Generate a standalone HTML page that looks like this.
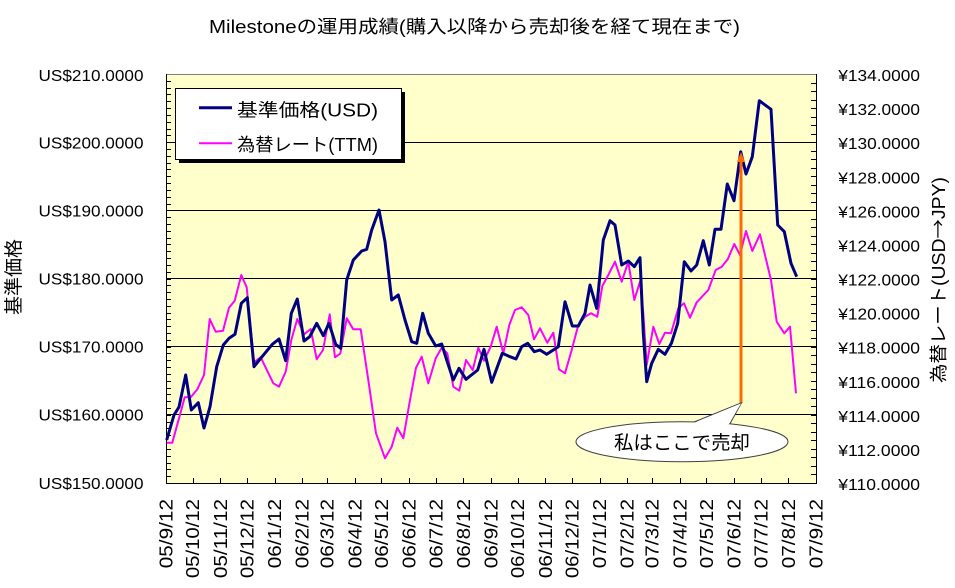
<!DOCTYPE html>
<html><head><meta charset="utf-8"><style>
html,body{margin:0;padding:0;background:#fff;}
svg{display:block;}
text{font-family:"Liberation Sans","Noto Sans CJK JP",sans-serif;fill:#000;}
</style></head><body>
<svg width="955" height="588" viewBox="0 0 955 588" xmlns="http://www.w3.org/2000/svg">
<rect x="0" y="0" width="955" height="588" fill="#fff"/>
<text x="209" y="33" font-size="18" textLength="531" lengthAdjust="spacingAndGlyphs">Milestoneの運用成績(購入以降から売却後を経て現在まで)</text>
<rect x="166" y="74" width="650" height="409" fill="#ffffcc"/>
<g shape-rendering="crispEdges" stroke="#000" stroke-width="1" fill="none">
<line x1="166" y1="142.5" x2="816" y2="142.5"/>
<line x1="166" y1="210.5" x2="816" y2="210.5"/>
<line x1="166" y1="278.5" x2="816" y2="278.5"/>
<line x1="166" y1="346.5" x2="816" y2="346.5"/>
<line x1="166" y1="414.5" x2="816" y2="414.5"/>
<line x1="166" y1="74.5" x2="816" y2="74.5" stroke="#808080"/>
<line x1="166.5" y1="74" x2="166.5" y2="484"/>
<line x1="816.5" y1="74" x2="816.5" y2="484"/>
<line x1="166" y1="483.5" x2="817" y2="483.5"/>
<path d="M166 476.5h5M166 469.5h5M166 463.5h5M166 456.5h5M166 449.5h5M166 442.5h5M166 435.5h5M166 428.5h5M166 422.5h5M166 415.5h5M166 408.5h5M166 401.5h5M166 394.5h5M166 388.5h5M166 381.5h5M166 374.5h5M166 367.5h5M166 360.5h5M166 353.5h5M166 347.5h5M166 340.5h5M166 333.5h5M166 326.5h5M166 319.5h5M166 313.5h5M166 306.5h5M166 299.5h5M166 292.5h5M166 285.5h5M166 279.5h5M166 272.5h5M166 265.5h5M166 258.5h5M166 251.5h5M166 244.5h5M166 238.5h5M166 231.5h5M166 224.5h5M166 217.5h5M166 210.5h5M166 204.5h5M166 197.5h5M166 190.5h5M166 183.5h5M166 176.5h5M166 169.5h5M166 163.5h5M166 156.5h5M166 149.5h5M166 142.5h5M166 135.5h5M166 129.5h5M166 122.5h5M166 115.5h5M166 108.5h5M166 101.5h5M166 94.5h5M166 88.5h5M166 81.5h5"/>
<path d="M811 474.5h5M811 466.5h5M811 457.5h5M811 449.5h5M811 440.5h5M811 432.5h5M811 423.5h5M811 415.5h5M811 406.5h5M811 398.5h5M811 389.5h5M811 381.5h5M811 372.5h5M811 364.5h5M811 355.5h5M811 347.5h5M811 338.5h5M811 330.5h5M811 321.5h5M811 313.5h5M811 304.5h5M811 296.5h5M811 287.5h5M811 279.5h5M811 270.5h5M811 261.5h5M811 253.5h5M811 244.5h5M811 236.5h5M811 227.5h5M811 219.5h5M811 210.5h5M811 202.5h5M811 193.5h5M811 185.5h5M811 176.5h5M811 168.5h5M811 159.5h5M811 151.5h5M811 142.5h5M811 134.5h5M811 125.5h5M811 117.5h5M811 108.5h5M811 100.5h5M811 91.5h5M811 83.5h5"/>
<path d="M193.5 478v5M220.5 478v5M247.5 478v5M275.5 478v5M302.5 478v5M327.5 478v5M355.5 478v5M381.5 478v5M409.5 478v5M436.5 478v5M463.5 478v5M491.5 478v5M518.5 478v5M545.5 478v5M572.5 478v5M600.5 478v5M627.5 478v5M652.5 478v5M680.5 478v5M706.5 478v5M734.5 478v5M761.5 478v5M788.5 478v5"/>
</g>
<polyline fill="none" stroke="#ff00ff" stroke-width="2" stroke-linejoin="round" points="166.7,442.7 172.3,442.7 179,418.3 184.7,397.3 190.7,397.3 197.3,389.3 204,375 209.7,319 215.7,331.7 223,330.7 229,307.7 234.7,300.7 241.3,275 246.7,287.3 254,362.3 260.7,357.3 273.3,383.3 279,386.7 285.7,371.7 291.3,340 297.3,319 304,334.3 310.7,329 316.7,359.3 323,350 329.7,314.3 335,357.3 340.3,353.6 346.7,318.3 353.3,329.3 360.7,329.3 368.3,380 376,433.3 385,458.3 391.7,446.7 397.3,427.7 403.3,438.3 410,400 416,367.7 421.7,356.7 428.3,383.3 435.7,358.3 441.7,347.7 447.3,353.3 453.3,386.7 459.3,390.7 466,360 472.7,370 478.3,347.7 484,360.7 490.7,346.7 496.7,326.7 503.3,353.3 509.3,325 515,310 521.7,307.3 528.3,315 534,339.3 540,328.3 547.3,342.7 553.3,332.7 559,369.3 565,373.3 571.7,350 578.3,325 585,316.7 591,313.3 597.3,316.7 602.3,286 608.3,275 615,261.7 621.7,281.7 628.3,261.7 634.3,300 640,281.7 643.3,313.3 646.7,365 653.3,326.7 659.3,344 665,332.7 671,333.3 678.3,308.3 684,303.3 690,317.7 696.7,302.3 708.3,290 715.7,270 721.7,266.7 727.7,259.3 734.3,244 740,255 746,231 752.3,251 760,234.3 771,280 776.7,321.7 784.3,333.3 790,326.7 796,393.3"/>
<polyline fill="none" stroke="#000080" stroke-width="3" stroke-linejoin="round" points="166.7,440 174,415 179,407 185.7,375 191.3,410 198.3,402.7 204,428 210,406.7 216.7,366.7 223.3,345 229,338.3 235,334.3 241.3,303.3 247.3,297.7 254,366.7 260.7,358.3 272.3,344.3 279,339 285.7,360.7 291.3,313.3 297.3,299 304,341 309.7,336.7 316.7,323.3 323.3,335.7 329,323.3 335.7,344.3 340.7,348.3 346.7,280 353.3,260 361.7,251 366.7,249.3 371.7,230 379,210 385,241.7 391.7,300 398.3,295 405,320 411.7,341.7 416.7,343.3 422.7,313.3 428.3,333.3 435.7,346 441.7,344 446.7,360 453.3,380 459,368.3 466,379.3 477.7,370 484,349.3 491.7,382.3 502.3,353.3 510,356.7 516,359 521.7,346.7 527.7,343.3 534.3,351.7 540,350 546.7,354.3 553.3,350 558.3,346.7 565,301.7 572.3,326 578.3,326 585,313.3 590,285 596.7,308.3 603.3,240 610,220.7 615,225 621.7,265 628.3,261 634.3,266.7 640,257.7 643.3,333.3 646.7,381.7 651.7,363.3 658.3,349.3 665,354.3 671.5,343 677.7,323.3 684.3,261.7 691,271 696.7,265 703.3,240.7 709.3,265 715,229.3 721,229.3 727.3,184 734,200.7 740.7,151.7 746,174 752.3,156.7 759.3,100.7 771,109.3 777.7,225 784.3,231.7 791,263.3 796.7,276.7"/>
<line x1="741" y1="160" x2="741" y2="403" stroke="#ff6a00" stroke-width="3"/>
<polygon points="741,152 737,162 745,162" fill="#ff6a00"/>
<path d="M691.7,423 L741.5,402.7 L729.3,425" fill="#fff" stroke="#404040" stroke-width="1"/>
<ellipse cx="682" cy="441.7" rx="106" ry="20" fill="#fff" stroke="#404040" stroke-width="1"/>
<path d="M693,423.2 L741,403.5 L728.5,424.5 Z" fill="#fff" stroke="none"/>
<text x="614" y="449" font-size="19" textLength="136" lengthAdjust="spacingAndGlyphs">私はここで売却</text>
<rect x="179" y="92" width="226" height="71" fill="#000"/>
<rect x="175.5" y="88.5" width="226" height="71" fill="#fff" stroke="#000" stroke-width="1" shape-rendering="crispEdges"/>
<line x1="199" y1="107.7" x2="232" y2="107.7" stroke="#000080" stroke-width="3"/>
<line x1="199" y1="143.3" x2="232" y2="143.3" stroke="#ff00ff" stroke-width="2"/>
<text x="237" y="116.5" font-size="18" textLength="141" lengthAdjust="spacingAndGlyphs">基準価格(USD)</text>
<text x="237" y="151" font-size="18" textLength="141" lengthAdjust="spacingAndGlyphs">為替レート(TTM)</text>
<g font-size="16">
<text x="38.5" y="81" textLength="105" lengthAdjust="spacingAndGlyphs">US$210.0000</text>
<text x="38.5" y="148.5" textLength="105" lengthAdjust="spacingAndGlyphs">US$200.0000</text>
<text x="38.5" y="216.5" textLength="105" lengthAdjust="spacingAndGlyphs">US$190.0000</text>
<text x="38.5" y="284.5" textLength="105" lengthAdjust="spacingAndGlyphs">US$180.0000</text>
<text x="38.5" y="352.5" textLength="105" lengthAdjust="spacingAndGlyphs">US$170.0000</text>
<text x="38.5" y="420.5" textLength="105" lengthAdjust="spacingAndGlyphs">US$160.0000</text>
<text x="38.5" y="489" textLength="105" lengthAdjust="spacingAndGlyphs">US$150.0000</text>
</g>
<g font-size="16">
<text x="838.3" y="81" textLength="81.7" lengthAdjust="spacingAndGlyphs">¥134.0000</text>
<text x="838.3" y="115.1" textLength="81.7" lengthAdjust="spacingAndGlyphs">¥132.0000</text>
<text x="838.3" y="149.2" textLength="81.7" lengthAdjust="spacingAndGlyphs">¥130.0000</text>
<text x="838.3" y="183.3" textLength="81.7" lengthAdjust="spacingAndGlyphs">¥128.0000</text>
<text x="838.3" y="217.3" textLength="81.7" lengthAdjust="spacingAndGlyphs">¥126.0000</text>
<text x="838.3" y="251.4" textLength="81.7" lengthAdjust="spacingAndGlyphs">¥124.0000</text>
<text x="838.3" y="285.5" textLength="81.7" lengthAdjust="spacingAndGlyphs">¥122.0000</text>
<text x="838.3" y="319.6" textLength="81.7" lengthAdjust="spacingAndGlyphs">¥120.0000</text>
<text x="838.3" y="353.7" textLength="81.7" lengthAdjust="spacingAndGlyphs">¥118.0000</text>
<text x="838.3" y="387.8" textLength="81.7" lengthAdjust="spacingAndGlyphs">¥116.0000</text>
<text x="838.3" y="421.8" textLength="81.7" lengthAdjust="spacingAndGlyphs">¥114.0000</text>
<text x="838.3" y="455.9" textLength="81.7" lengthAdjust="spacingAndGlyphs">¥112.0000</text>
<text x="838.3" y="490" textLength="81.7" lengthAdjust="spacingAndGlyphs">¥110.0000</text>
</g>
<g font-size="18" text-anchor="end">
<text transform="translate(172.5,499) rotate(-90)" textLength="69.3" lengthAdjust="spacingAndGlyphs">05/9/12</text>
<text transform="translate(199.2,499) rotate(-90)" textLength="79.2" lengthAdjust="spacingAndGlyphs">05/10/12</text>
<text transform="translate(226.8,499) rotate(-90)" textLength="79.2" lengthAdjust="spacingAndGlyphs">05/11/12</text>
<text transform="translate(253.5,499) rotate(-90)" textLength="79.2" lengthAdjust="spacingAndGlyphs">05/12/12</text>
<text transform="translate(281.1,499) rotate(-90)" textLength="69.3" lengthAdjust="spacingAndGlyphs">06/1/12</text>
<text transform="translate(308.7,499) rotate(-90)" textLength="69.3" lengthAdjust="spacingAndGlyphs">06/2/12</text>
<text transform="translate(333.7,499) rotate(-90)" textLength="69.3" lengthAdjust="spacingAndGlyphs">06/3/12</text>
<text transform="translate(361.3,499) rotate(-90)" textLength="69.3" lengthAdjust="spacingAndGlyphs">06/4/12</text>
<text transform="translate(388,499) rotate(-90)" textLength="69.3" lengthAdjust="spacingAndGlyphs">06/5/12</text>
<text transform="translate(415.6,499) rotate(-90)" textLength="69.3" lengthAdjust="spacingAndGlyphs">06/6/12</text>
<text transform="translate(442.3,499) rotate(-90)" textLength="69.3" lengthAdjust="spacingAndGlyphs">06/7/12</text>
<text transform="translate(469.9,499) rotate(-90)" textLength="69.3" lengthAdjust="spacingAndGlyphs">06/8/12</text>
<text transform="translate(497.5,499) rotate(-90)" textLength="69.3" lengthAdjust="spacingAndGlyphs">06/9/12</text>
<text transform="translate(524.2,499) rotate(-90)" textLength="79.2" lengthAdjust="spacingAndGlyphs">06/10/12</text>
<text transform="translate(551.8,499) rotate(-90)" textLength="79.2" lengthAdjust="spacingAndGlyphs">06/11/12</text>
<text transform="translate(578.5,499) rotate(-90)" textLength="79.2" lengthAdjust="spacingAndGlyphs">06/12/12</text>
<text transform="translate(606.1,499) rotate(-90)" textLength="69.3" lengthAdjust="spacingAndGlyphs">07/1/12</text>
<text transform="translate(633.7,499) rotate(-90)" textLength="69.3" lengthAdjust="spacingAndGlyphs">07/2/12</text>
<text transform="translate(658.7,499) rotate(-90)" textLength="69.3" lengthAdjust="spacingAndGlyphs">07/3/12</text>
<text transform="translate(686.3,499) rotate(-90)" textLength="69.3" lengthAdjust="spacingAndGlyphs">07/4/12</text>
<text transform="translate(713,499) rotate(-90)" textLength="69.3" lengthAdjust="spacingAndGlyphs">07/5/12</text>
<text transform="translate(740.6,499) rotate(-90)" textLength="69.3" lengthAdjust="spacingAndGlyphs">07/6/12</text>
<text transform="translate(767.3,499) rotate(-90)" textLength="69.3" lengthAdjust="spacingAndGlyphs">07/7/12</text>
<text transform="translate(794.9,499) rotate(-90)" textLength="69.3" lengthAdjust="spacingAndGlyphs">07/8/12</text>
<text transform="translate(822.5,499) rotate(-90)" textLength="69.3" lengthAdjust="spacingAndGlyphs">07/9/12</text>
</g>
<text transform="translate(20,277) rotate(-90)" text-anchor="middle" font-size="19" textLength="76" lengthAdjust="spacingAndGlyphs">基準価格</text>
<text transform="translate(945,280) rotate(-90)" text-anchor="middle" font-size="18" textLength="206" lengthAdjust="spacingAndGlyphs">為替レート(USD<tspan font-family="Noto Sans CJK JP, sans-serif">→</tspan>JPY)</text>
</svg>
</body></html>
